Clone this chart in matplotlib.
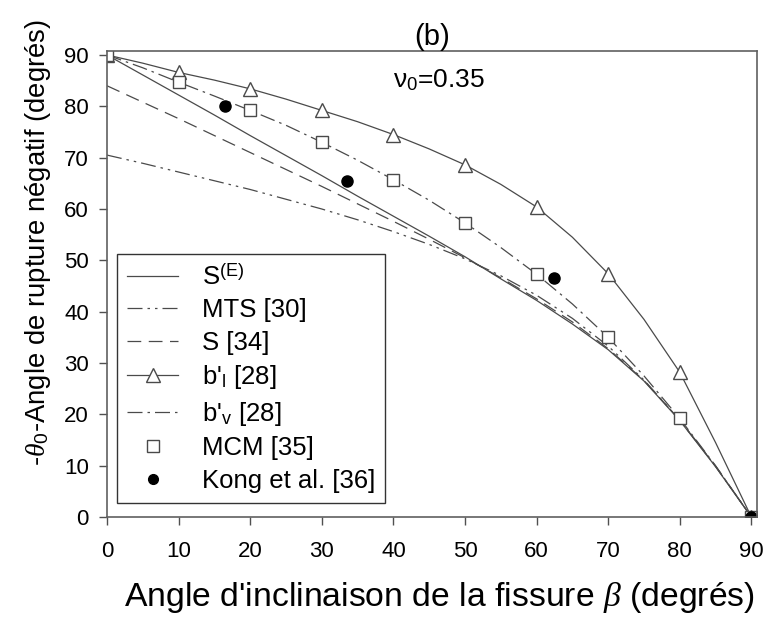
import matplotlib
matplotlib.use("Agg")
import matplotlib.pyplot as plt
from matplotlib.lines import Line2D

plt.rcParams['font.family'] = ['Liberation Sans', 'DejaVu Sans']
plt.rcParams['mathtext.fontset'] = 'custom'
plt.rcParams['mathtext.rm'] = 'Liberation Sans'
plt.rcParams['mathtext.it'] = 'Liberation Serif:italic'
plt.rcParams['mathtext.bf'] = 'Liberation Sans:bold'

# crack inclination angle (deg)
beta = [0, 5, 10, 15, 20, 25, 30, 35, 40, 45, 50, 55, 60, 65, 70, 75, 80, 85, 90]

# model curves, -theta0 (deg)
s_e = [90, 86.1, 82.2, 78.3, 74.3, 70.4, 66.5, 62.5, 58.6, 54.7, 50.7,
       46.4, 42.2, 37.6, 32.6, 26.5, 18.8, 9.8, 0]
mts = [70.5, 68.9, 67.2, 65.5, 63.8, 61.9, 60.0, 57.9, 55.6, 53.1, 50.3,
       47.0, 43.2, 38.7, 33.3, 26.7, 18.9, 9.9, 0]
s34 = [84.0, 80.8, 77.6, 74.3, 71.0, 67.7, 64.4, 61.0, 57.6, 54.1, 50.5,
       46.6, 42.5, 38.0, 32.8, 26.6, 18.9, 9.9, 0]
bl = [90, 88.4, 86.6, 85.1, 83.4, 81.4, 79.2, 77.0, 74.5, 71.7, 68.6,
      64.8, 60.4, 54.5, 47.4, 38.5, 28.2, 14.5, 0]
bv = [90, 87.5, 84.7, 82.0, 79.2, 76.3, 73.0, 69.5, 65.7, 61.7, 57.3,
      52.5, 47.3, 41.5, 35.0, 27.5, 19.2, 10.0, 0]

# markers every 10 deg
beta_mk = [0, 10, 20, 30, 40, 50, 60, 70, 80, 90]
bl_mk = [90, 86.6, 83.4, 79.2, 74.5, 68.6, 60.4, 47.4, 28.2, 0]
mcm = [90, 84.7, 79.2, 73.0, 65.7, 57.3, 47.3, 35.0, 19.2, 0]

# experimental points
kong_beta = [16.5, 33.5, 62.5, 90]
kong_theta = [80.0, 65.5, 46.5, 0]

lc = '#4a4a4a'
st_mts = (12, 4, 2, 4, 2, 4)
st_s34 = (11, 6)
st_bv = (12, 4, 2, 4)

fig = plt.figure(figsize=(7.64, 6.2), dpi=100)
ax = fig.add_axes([0.140, 0.166, 0.851, 0.752])

ax.plot(beta, s_e, color=lc, lw=0.9)
ax.plot(beta, mts, color=lc, lw=0.9, dashes=st_mts)
ax.plot(beta, s34, color=lc, lw=0.9, dashes=st_s34)
ax.plot(beta, bl, color=lc, lw=0.9)
ax.plot(beta, bv, color=lc, lw=0.9, dashes=st_bv)
ax.plot(beta_mk, bl_mk, ls='none', marker='^', ms=10.5, mfc='white', mec=lc, mew=1.0)
ax.plot(beta_mk, mcm, ls='none', marker='s', ms=9, mfc='white', mec=lc, mew=1.0)
ax.plot(kong_beta, kong_theta, ls='none', marker='o', ms=8, color='black')

handles = [
    Line2D([], [], color=lc, lw=0.9),
    Line2D([], [], color=lc, lw=0.9, dashes=st_mts),
    Line2D([], [], color=lc, lw=0.9, dashes=st_s34),
    Line2D([], [], color=lc, lw=0.9, marker='^', ms=10, mfc='white', mec=lc),
    Line2D([], [], color=lc, lw=0.9, dashes=st_bv),
    Line2D([], [], ls='none', marker='s', ms=8, mfc='white', mec=lc),
    Line2D([], [], ls='none', marker='o', ms=7, color='black'),
]
labels = ['S$^{(\\mathrm{E})}$', 'MTS [30]', 'S [34]', "b'$_\\mathrm{l}$ [28]",
          "b'$_\\mathrm{v}$ [28]", 'MCM [35]', 'Kong et al. [36]']
leg = ax.legend(handles, labels, loc='lower left', bbox_to_anchor=(0.015, 0.03),
                borderaxespad=0, fontsize=18.5, frameon=True, fancybox=False,
                edgecolor='black', handlelength=2.0, handletextpad=0.9,
                labelspacing=0.33, borderpad=0.4)
leg.get_frame().set_linewidth(1.0)

ax.set_xlim(0, 90.8)
ax.set_ylim(0, 90.8)
ax.set_xticks(range(0, 91, 10))
ax.set_yticks(range(0, 91, 10))
ax.tick_params(direction='out', length=6, width=1, color='#505050',
               labelsize=16, top=False, right=False)
ax.tick_params(axis='x', pad=11)
ax.tick_params(axis='y', pad=7)
for sp in ax.spines.values():
    sp.set_color('#606060')
    sp.set_linewidth(1.2)

ax.set_title('(b)', fontsize=21, pad=4)
ax.text(46.3, 85, '$\\mathrm{\\nu}_0$=0.35', fontsize=19, ha='center', va='center')
ax.set_xlabel("Angle d'inclinaison de la fissure $\\beta$ (degrés)", fontsize=24.3)
ax.xaxis.set_label_coords(0.512, -0.136)
ax.set_ylabel('-$\\theta_0$-Angle de rupture négatif (degrés)', fontsize=19.8)
ax.yaxis.set_label_coords(-0.083, 0.588)

fig.savefig('out.png', dpi=100)
